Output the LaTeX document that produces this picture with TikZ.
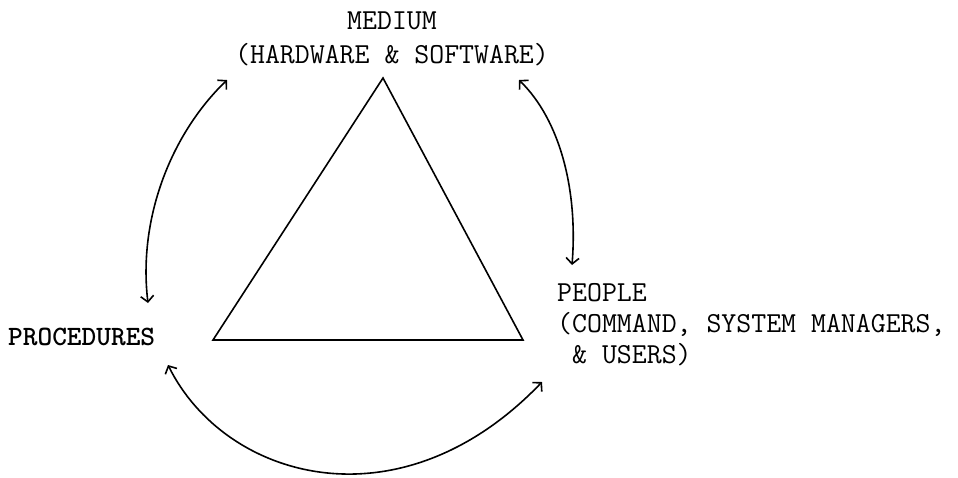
\documentclass[tikz,border=0pt]{standalone}
\usetikzlibrary{arrows.meta}
\begin{document}
\begin{tikzpicture}[x=1pt,y=-1pt,
	every node/.style={font=\ttfamily\fontsize{29}{31}\selectfont,inner sep=0pt},
	link/.style={{Straight Barb[length=6pt,width=13pt]}-{Straight Barb[length=6pt,width=13pt]},line width=1.6pt},
	side/.style={line width=1.6pt,line join=miter}]
\useasboundingbox (0,0) rectangle (958,477);
% labels
\node[align=center,anchor=north,font=\ttfamily\fontsize{29}{34}\selectfont] (medium) at (392,12) {MEDIUM\\(HARDWARE \& SOFTWARE)};
\node[anchor=base west,font=\ttfamily\bfseries\fontsize{28}{31}\selectfont] (proc) at (8,345) {PROCEDURES};
\node[align=left,anchor=north west] (people) at (557,283) {PEOPLE\\(COMMAND, SYSTEM MANAGERS,\\\hphantom{X}\& USERS)};
% triangle
\coordinate (apex) at (383,78);
\coordinate (lft) at (213,340);
\coordinate (rgt) at (523,340);
\draw[side] (apex) -- (lft) -- (rgt) -- cycle;
\draw[side,line width=2.6pt] (lft) -- (rgt);
% arrow ends
\coordinate (mL) at (227,80);
\coordinate (pT) at (148,303);
\coordinate (mR) at (519,80);
\coordinate (uT) at (572,265);
\coordinate (pB) at (168,365);
\coordinate (uB) at (542,382);
\draw[link] (pT) .. controls (138,220) and (170,135) .. (mL);
\draw[link] (mR) .. controls (560,120) and (578,190) .. (uT);
\draw[link] (pB) .. controls (225,480) and (400,530) .. (uB);
\end{tikzpicture}
\end{document}
